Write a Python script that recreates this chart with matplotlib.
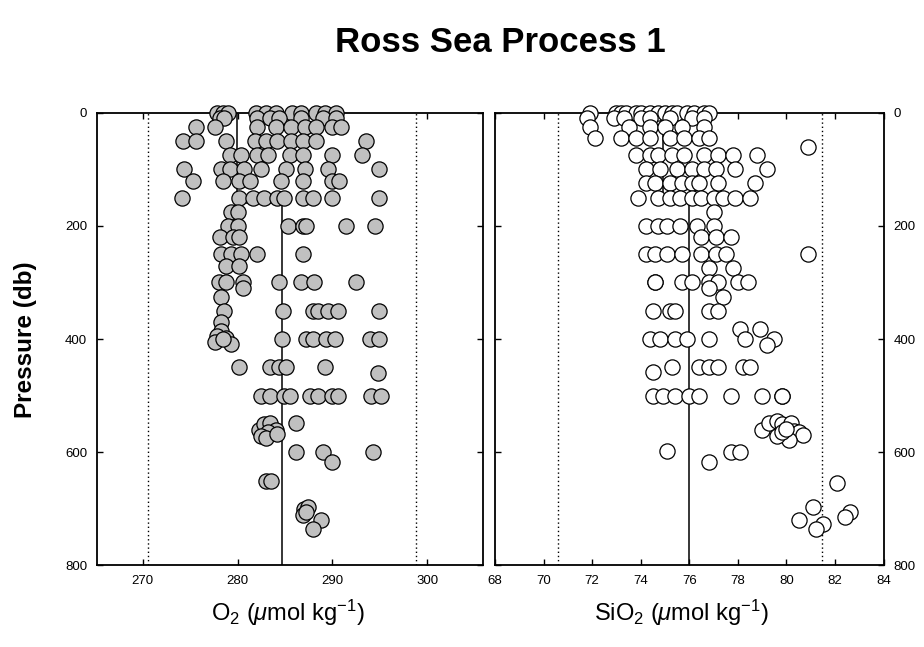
"""Ross Sea Process 1: O2 and SiO2 profiles against pressure."""

import matplotlib
matplotlib.use("Agg")
import matplotlib.pyplot as plt

plt.rcParams["font.family"] = ["Liberation Sans Narrow", "Liberation Sans", "DejaVu Sans"]
plt.rcParams["mathtext.fontset"] = "custom"
plt.rcParams["mathtext.rm"] = "Liberation Sans"
plt.rcParams["mathtext.it"] = "Liberation Sans:italic"

# ── data ────────────────────────────────────────────────────────────────────
o2_pressure = (
    [0] * 11 + [10] * 8 + [25] * 9 + [50] * 10 + [75] * 8 + [100] * 9
    + [120] * 8 + [150] * 10 + [175] * 2 + [200] * 7 + [220] * 3
    + [250] * 5 + [270] * 2 + [300] * 7 + [310, 325] + [350] * 7 + [370]
    + [385, 395, 398, 405, 408, 400] + [400] * 7 + [450] * 5 + [460]
    + [500] * 10 + [560, 550, 548, 560, 565, 572, 575, 568, 549]
    + [600] * 3 + [617] + [650] * 2 + [700, 697, 710, 720, 735, 705]
)
o2_values = [
    277.8, 278.5, 279.0, 281.9, 283.0, 284.1, 285.7, 286.7, 288.3, 289.2, 290.4,
    278.1, 278.6, 282.0, 283.4, 284.4, 286.7, 289.0, 290.4,
    275.6, 277.6, 282.0, 284.1, 285.6, 287.1, 288.3, 289.9, 290.9,
    274.3, 275.6, 278.8, 281.8, 283.0, 284.2, 285.6, 286.9, 288.3, 293.5,
    279.2, 280.4, 282.0, 283.2, 285.5, 286.9, 290.0, 293.1,
    274.4, 278.3, 279.2, 280.7, 282.5, 285.1, 287.1, 289.5, 294.9,
    275.3, 278.5, 280.2, 281.3, 284.6, 286.9, 289.9, 290.7,
    274.1, 280.2, 281.6, 282.8, 284.2, 284.9, 286.9, 287.9, 289.9, 294.9,
    279.3, 280.0,
    279.0, 280.0, 285.3, 286.9, 287.2, 291.4, 294.5,
    278.1, 279.5, 280.2,
    278.3, 279.3, 280.4, 282.0, 286.9,
    278.8, 280.2,
    278.0, 278.8, 280.6, 284.4, 286.7, 288.1, 292.5,
    280.6, 278.3,
    278.6, 284.8, 287.9, 288.5, 289.5, 290.6, 294.9,
    278.3,
    278.3, 277.8, 278.8, 277.6, 279.3, 278.5,
    284.7, 287.2, 287.9, 289.3, 290.3, 293.9, 294.9,
    280.2, 283.4, 284.4, 285.1, 289.2,
    294.8,
    282.5, 283.4, 284.9, 285.5, 287.6, 288.5, 289.9, 290.6, 294.1, 295.1,
    282.3, 282.8, 283.4, 284.0, 283.2, 282.5, 283.0, 284.2, 286.2,
    286.2, 289.0, 294.3,
    289.9,
    283.0, 283.5,
    287.0, 287.4, 286.9, 288.8, 287.9, 287.2,
]

sio2_pressure = (
    [0] * 15 + [10] * 8 + [25] * 6 + [45] * 8 + [60] + [75] * 9 + [100] * 8
    + [125] * 8 + [150] * 10 + [175] + [200] * 6 + [220] * 3 + [250] * 8
    + [275] * 2 + [300] * 8 + [310, 325] + [350] * 5 + [382] * 2
    + [400] * 7 + [410] + [450] * 6 + [458] + [500] * 9
    + [560, 548, 545, 550, 548, 562, 565, 570, 578, 572, 565, 558]
    + [597, 600, 600, 618, 654, 697, 706, 715, 720, 727, 735]
)
sio2_values = [
    71.9, 73.0, 73.2, 73.4, 73.8, 74.0, 74.4, 74.7, 75.0, 75.3, 75.5, 75.9, 76.2, 76.6, 76.8,
    71.8, 72.9, 73.3, 74.0, 74.4, 75.2, 76.1, 76.6,
    71.9, 73.5, 74.4, 75.0, 75.7, 76.6,
    72.1, 73.2, 73.8, 74.4, 75.2, 75.8, 76.4, 76.8,
    80.9,
    73.8, 74.4, 74.7, 75.3, 75.8, 76.6, 77.2, 77.8, 78.8,
    74.2, 74.8, 75.5, 76.1, 76.6, 77.1, 77.9, 79.2,
    74.2, 74.6, 75.2, 75.7, 76.1, 76.4, 77.2, 78.7,
    73.9, 74.7, 75.2, 75.6, 76.1, 76.5, 77.0, 77.4, 77.9, 78.5,
    77.0,
    74.2, 74.7, 75.1, 75.6, 76.3, 77.0,
    76.5, 77.1, 77.7,
    74.2, 74.6, 75.1, 75.7, 76.5, 77.1, 77.5, 80.9,
    76.8, 77.8,
    74.6, 74.6, 75.7, 76.1, 76.8, 77.2, 78.0, 78.4,
    76.8, 77.4,
    74.5, 75.2, 75.4, 76.8, 77.2,
    78.1, 78.9,
    74.4, 74.8, 75.4, 75.9, 76.8, 78.3, 79.5,
    79.2,
    75.3, 76.4, 76.8, 77.2, 78.2, 78.5,
    74.5,
    74.5, 74.9, 75.4, 76.0, 76.4, 77.7, 79.0, 79.8, 79.8,
    79.0, 79.3, 79.6, 79.8, 80.2, 80.3, 80.5, 80.7, 80.1, 79.6, 79.8, 80.0,
    75.1, 77.7, 78.1, 76.8, 82.1, 81.1, 82.6, 82.4, 80.5, 81.5, 81.2,
]

# median step profile and dotted limits
o2_median_x = [279.9, 279.9, 284.7, 284.7]
sio2_median_x = [74.9, 74.9, 76.0, 76.0]
median_p = [0, 160, 160, 800]
o2_limits = [270.6, 298.8]
sio2_limits = [70.6, 81.45]

o2_ticks = [270, 280, 290, 300]
sio2_ticks = [68, 70, 72, 74, 76, 78, 80, 82, 84]
p_ticks = [0, 200, 400, 600, 800]


def style_axis(ax, xticks, xlim):
    ax.set_xlim(*xlim)
    ax.set_ylim(800, 0)
    ax.set_xticks(xticks)
    ax.set_yticks(p_ticks)
    ax.tick_params(direction="in", length=4, width=1, top=True, right=True,
                   labelsize=9.5, pad=7)
    for s in ax.spines.values():
        s.set_linewidth(1.3)


fig = plt.figure(figsize=(9.24, 6.47), dpi=100)
ax1 = fig.add_axes([0.1050, 0.1260, 0.4172, 0.6998])
ax2 = fig.add_axes([0.5357, 0.1260, 0.4205, 0.6998])

# ── left panel: O2 ───────────────────────────────────────────────────────────
ax1.plot(o2_median_x, median_p, color="black", linewidth=1.1, zorder=1)
for v in o2_limits:
    ax1.axvline(v, color="black", linewidth=1, linestyle=(0, (1, 2)), zorder=1)
ax1.scatter(o2_values, o2_pressure, s=120, facecolor="#c0c0c0",
            edgecolor="black", linewidth=0.9, zorder=3, clip_on=False)
style_axis(ax1, o2_ticks, (265.2, 305.8))

# ── right panel: SiO2 ────────────────────────────────────────────────────────
ax2.plot(sio2_median_x, median_p, color="black", linewidth=1.1, zorder=1)
for v in sio2_limits:
    ax2.axvline(v, color="black", linewidth=1, linestyle=(0, (1, 2)), zorder=1)
ax2.scatter(sio2_values, sio2_pressure, s=120, facecolor="white",
            edgecolor="black", linewidth=0.9, zorder=3, clip_on=False)
style_axis(ax2, sio2_ticks, (68, 84))
ax2.tick_params(labelleft=False, labelright=True)

# ── text ────────────────────────────────────────────────────────────────────
fig.text(0.541, 0.934, "Ross Sea Process 1", ha="center", va="center",
         fontsize=25, fontweight="bold")
fig.text(0.028, 0.475, "Pressure (db)", rotation=90, ha="center", va="center",
         fontsize=17.5, fontweight="bold")
fig.text(0.312, 0.052, r"O$_2$ ($\mu$mol kg$^{-1}$)", ha="center", va="center",
         fontsize=17)
fig.text(0.737, 0.052, r"SiO$_2$ ($\mu$mol kg$^{-1}$)", ha="center", va="center",
         fontsize=17)

fig.savefig("out.png", dpi=100)
